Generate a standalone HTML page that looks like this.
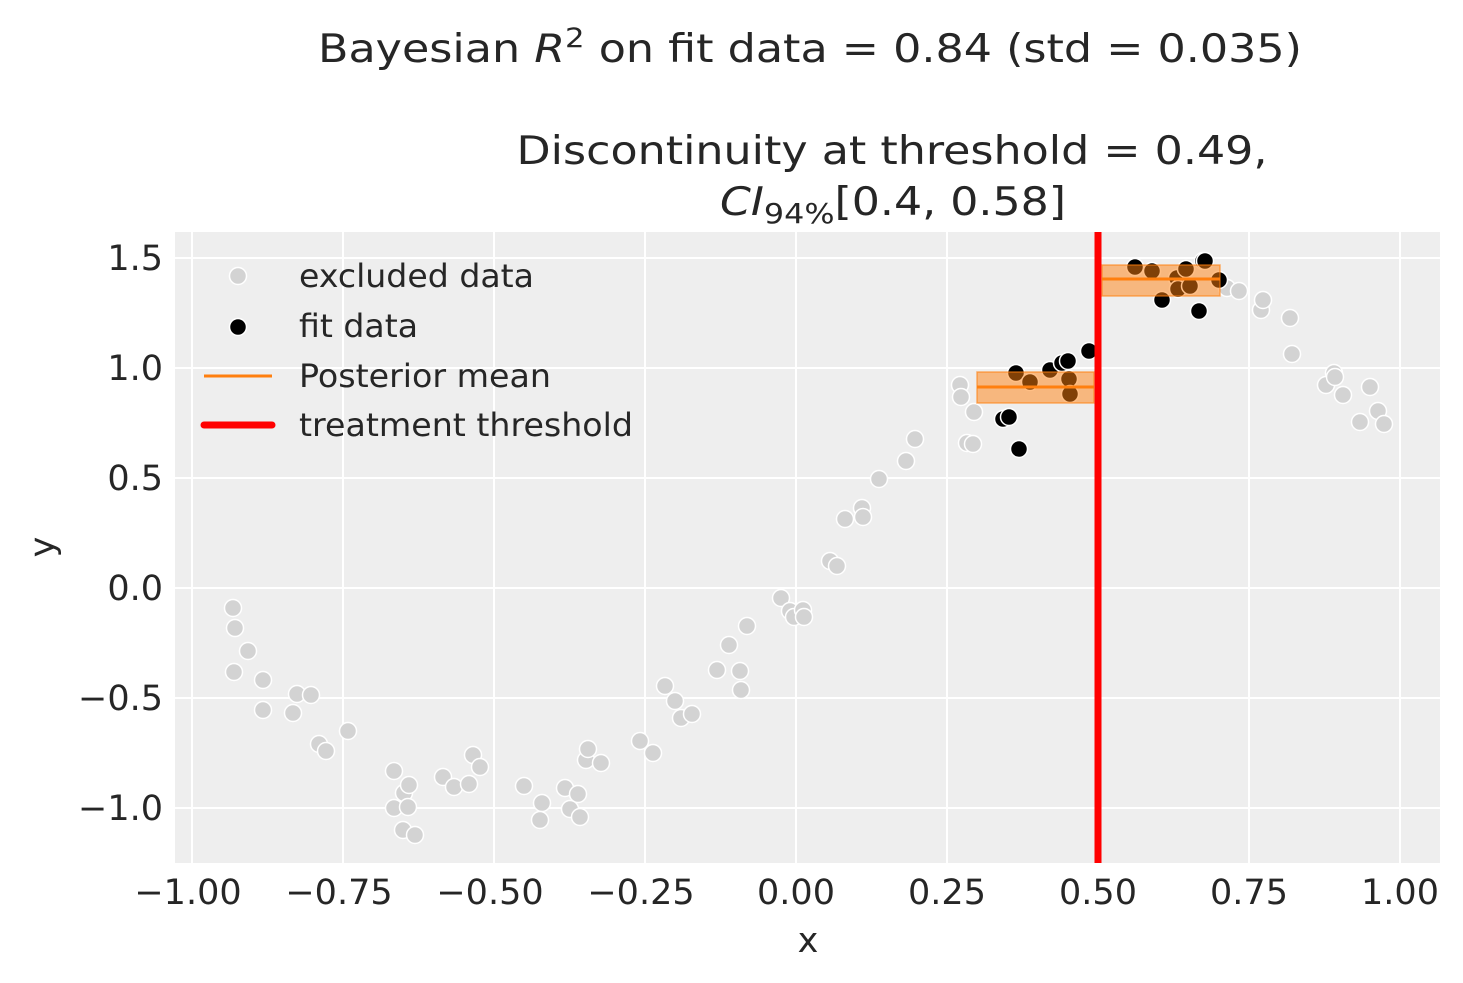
<!DOCTYPE html>
<html><head><meta charset="utf-8"><style>
html,body{margin:0;padding:0;background:#fff;}
svg{display:block;font-family:"DejaVu Sans","Liberation Sans",sans-serif;}
</style></head><body>
<svg width="1463" height="983" viewBox="0 0 1463 983" xmlns="http://www.w3.org/2000/svg">
<rect width="1463" height="983" fill="#fff"/>
<g fill="#262626">
<text x="810" y="62" font-size="39" text-anchor="middle" textLength="984" lengthAdjust="spacingAndGlyphs">Bayesian <tspan font-style="italic">R</tspan><tspan font-size="27" dy="-15">2</tspan><tspan dy="15"> on fit data = 0.84 (std = 0.035)</tspan></text>
<text x="892" y="164" font-size="39" text-anchor="middle" textLength="751" lengthAdjust="spacingAndGlyphs">Discontinuity at threshold = 0.49,</text>
<text x="893" y="215" font-size="39" text-anchor="middle" textLength="346" lengthAdjust="spacingAndGlyphs"><tspan font-style="italic">CI</tspan><tspan font-size="28" dy="8">94%</tspan><tspan dy="-8">[0.4, 0.58]</tspan></text>
</g>
<rect x="175" y="232" width="1265" height="631" fill="#eeeeee"/>
<g stroke="#fff" stroke-width="2">
<line x1="192" y1="232" x2="192" y2="863"/><line x1="343" y1="232" x2="343" y2="863"/><line x1="494" y1="232" x2="494" y2="863"/><line x1="645" y1="232" x2="645" y2="863"/><line x1="796" y1="232" x2="796" y2="863"/><line x1="947" y1="232" x2="947" y2="863"/><line x1="1098" y1="232" x2="1098" y2="863"/><line x1="1249" y1="232" x2="1249" y2="863"/><line x1="1400" y1="232" x2="1400" y2="863"/>
<line x1="175" y1="258" x2="1440" y2="258"/><line x1="175" y1="368" x2="1440" y2="368"/><line x1="175" y1="478" x2="1440" y2="478"/><line x1="175" y1="588" x2="1440" y2="588"/><line x1="175" y1="698" x2="1440" y2="698"/><line x1="175" y1="808" x2="1440" y2="808"/>
</g>
<g fill="#d3d3d3" stroke="#fff" stroke-width="1.5">
<circle cx="233" cy="608" r="8.5"/><circle cx="235" cy="628" r="8.5"/><circle cx="248" cy="651" r="8.5"/><circle cx="234" cy="672" r="8.5"/><circle cx="263" cy="680" r="8.5"/><circle cx="263" cy="710" r="8.5"/><circle cx="297" cy="694" r="8.5"/><circle cx="311" cy="695" r="8.5"/><circle cx="293" cy="713" r="8.5"/><circle cx="319" cy="744" r="8.5"/><circle cx="326" cy="751" r="8.5"/><circle cx="348" cy="731" r="8.5"/><circle cx="394" cy="771" r="8.5"/><circle cx="404" cy="793" r="8.5"/><circle cx="409" cy="785" r="8.5"/><circle cx="394" cy="808" r="8.5"/><circle cx="408" cy="807" r="8.5"/><circle cx="403" cy="830" r="8.5"/><circle cx="415" cy="835" r="8.5"/><circle cx="443" cy="777" r="8.5"/><circle cx="454" cy="787" r="8.5"/><circle cx="469" cy="784" r="8.5"/><circle cx="473" cy="755" r="8.5"/><circle cx="480" cy="767" r="8.5"/><circle cx="524" cy="786" r="8.5"/><circle cx="542" cy="803" r="8.5"/><circle cx="540" cy="820" r="8.5"/><circle cx="565" cy="788" r="8.5"/><circle cx="578" cy="794" r="8.5"/><circle cx="570" cy="809" r="8.5"/><circle cx="580" cy="817" r="8.5"/><circle cx="586" cy="760" r="8.5"/><circle cx="588" cy="749" r="8.5"/><circle cx="601" cy="763" r="8.5"/><circle cx="640" cy="741" r="8.5"/><circle cx="653" cy="753" r="8.5"/><circle cx="665" cy="686" r="8.5"/><circle cx="675" cy="701" r="8.5"/><circle cx="681" cy="718" r="8.5"/><circle cx="692" cy="714" r="8.5"/><circle cx="729" cy="645" r="8.5"/><circle cx="717" cy="670" r="8.5"/><circle cx="740" cy="671" r="8.5"/><circle cx="741" cy="690" r="8.5"/><circle cx="747" cy="626" r="8.5"/><circle cx="781" cy="598" r="8.5"/><circle cx="790" cy="611" r="8.5"/><circle cx="794" cy="617" r="8.5"/><circle cx="803" cy="610" r="8.5"/><circle cx="804" cy="617" r="8.5"/><circle cx="830" cy="561" r="8.5"/><circle cx="837" cy="566" r="8.5"/><circle cx="845" cy="519" r="8.5"/><circle cx="862" cy="508" r="8.5"/><circle cx="863" cy="517" r="8.5"/><circle cx="879" cy="479" r="8.5"/><circle cx="906" cy="461" r="8.5"/><circle cx="915" cy="439" r="8.5"/><circle cx="960" cy="385" r="8.5"/><circle cx="961" cy="397" r="8.5"/><circle cx="967" cy="443" r="8.5"/><circle cx="974" cy="412" r="8.5"/><circle cx="973" cy="444" r="8.5"/><circle cx="1227" cy="288" r="8.5"/><circle cx="1239" cy="291" r="8.5"/><circle cx="1261" cy="310" r="8.5"/><circle cx="1263" cy="300" r="8.5"/><circle cx="1290" cy="318" r="8.5"/><circle cx="1292" cy="354" r="8.5"/><circle cx="1326" cy="385" r="8.5"/><circle cx="1334" cy="373" r="8.5"/><circle cx="1335" cy="377" r="8.5"/><circle cx="1343" cy="395" r="8.5"/><circle cx="1360" cy="422" r="8.5"/><circle cx="1370" cy="387" r="8.5"/><circle cx="1378" cy="411" r="8.5"/><circle cx="1384" cy="424" r="8.5"/>
</g>
<g fill="#000" stroke="#fff" stroke-width="1.5">
<circle cx="1016" cy="373" r="8.5"/><circle cx="1030" cy="382" r="8.5"/><circle cx="1050" cy="370" r="8.5"/><circle cx="1062" cy="363" r="8.5"/><circle cx="1068" cy="361" r="8.5"/><circle cx="1089" cy="351" r="8.5"/><circle cx="1069" cy="379" r="8.5"/><circle cx="1070" cy="394" r="8.5"/><circle cx="1003" cy="419" r="8.5"/><circle cx="1009" cy="417" r="8.5"/><circle cx="1019" cy="449" r="8.5"/>
<circle cx="1135" cy="267" r="8.5"/><circle cx="1152" cy="271" r="8.5"/><circle cx="1177" cy="278" r="8.5"/><circle cx="1186" cy="269" r="8.5"/><circle cx="1178" cy="289" r="8.5"/><circle cx="1190" cy="286" r="8.5"/><circle cx="1162" cy="300" r="8.5"/><circle cx="1199" cy="311" r="8.5"/><circle cx="1203" cy="261" r="8.5"/><circle cx="1205" cy="261" r="8.5"/><circle cx="1219" cy="280" r="8.5"/>
</g>
<rect x="977" y="372" width="117" height="31" fill="#ff7f0e" fill-opacity="0.5" stroke="#ff7f0e" stroke-opacity="0.6" stroke-width="1.5"/>
<line x1="977" y1="387" x2="1094" y2="387" stroke="#ff7f0e" stroke-width="3"/>
<rect x="1102" y="265" width="118" height="31" fill="#ff7f0e" fill-opacity="0.5" stroke="#ff7f0e" stroke-opacity="0.6" stroke-width="1.5"/>
<line x1="1102" y1="279" x2="1220" y2="279" stroke="#ff7f0e" stroke-width="3"/>
<line x1="1098" y1="232" x2="1098" y2="863" stroke="#ff0000" stroke-width="7"/>
<circle cx="238" cy="276" r="8.5" fill="#d3d3d3" stroke="#fff" stroke-width="1.5"/>
<circle cx="238" cy="327" r="8.5" fill="#000" stroke="#fff" stroke-width="1.5"/>
<line x1="204" y1="376" x2="272" y2="376" stroke="#ff7f0e" stroke-width="3"/>
<line x1="204" y1="425" x2="272" y2="425" stroke="#ff0000" stroke-width="7" stroke-linecap="round"/>
<g fill="#262626" font-size="32">
<text x="299" y="287" textLength="235" lengthAdjust="spacingAndGlyphs">excluded data</text>
<text x="299" y="337" textLength="119" lengthAdjust="spacingAndGlyphs">fit data</text>
<text x="299" y="387" textLength="252" lengthAdjust="spacingAndGlyphs">Posterior mean</text>
<text x="299" y="436" textLength="334" lengthAdjust="spacingAndGlyphs">treatment threshold</text>
</g>
<g fill="#262626" font-size="35" text-anchor="end">
<text x="163" y="270">1.5</text><text x="163" y="380">1.0</text><text x="163" y="490">0.5</text><text x="163" y="600">0.0</text><text x="163" y="710">−0.5</text><text x="163" y="820">−1.0</text>
</g>
<g fill="#262626" font-size="35" text-anchor="middle">
<text x="188" y="904">−1.00</text><text x="339" y="904">−0.75</text><text x="490" y="904">−0.50</text><text x="641" y="904">−0.25</text><text x="796" y="904">0.00</text><text x="947" y="904">0.25</text><text x="1098" y="904">0.50</text><text x="1249" y="904">0.75</text><text x="1400" y="904">1.00</text>
</g>
<text x="808" y="952" font-size="35" fill="#262626" text-anchor="middle">x</text>
<text transform="translate(54,547) rotate(-90)" font-size="35" fill="#262626" text-anchor="middle">y</text>
</svg>
</body></html>
